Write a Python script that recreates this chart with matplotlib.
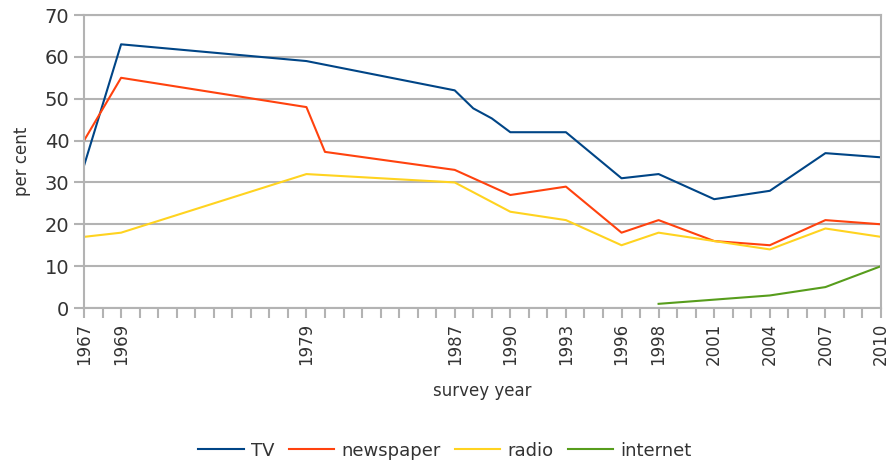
import matplotlib
matplotlib.use("Agg")
import matplotlib.pyplot as plt

# survey data (per cent)
tv_years = [1967, 1969, 1979, 1987, 1988, 1989, 1990, 1993, 1996, 1998, 2001, 2004, 2007, 2010]
tv = [34, 63, 59, 52, 47.7, 45.3, 42, 42, 31, 32, 26, 28, 37, 36]

news_years = [1967, 1969, 1979, 1980, 1987, 1990, 1993, 1996, 1998, 2001, 2004, 2007, 2010]
newspaper = [40, 55, 48, 37.3, 33, 27, 29, 18, 21, 16, 15, 21, 20]

radio_years = [1967, 1969, 1979, 1987, 1990, 1993, 1996, 1998, 2001, 2004, 2007, 2010]
radio = [17, 18, 32, 30, 23, 21, 15, 18, 16, 14, 19, 17]

net_years = [1998, 2001, 2004, 2007, 2010]
internet = [1, 2, 3, 5, 10]

label_years = [1967, 1969, 1979, 1987, 1990, 1993, 1996, 1998, 2001, 2004, 2007, 2010]

grid_col = "#b3b3b3"
text_col = "#333333"

fig = plt.figure(figsize=(8.9, 4.62), dpi=100)
ax = fig.add_axes([0.0944, 0.3333, 0.8955, 0.6342])

ax.plot(tv_years, tv, color="#004586", lw=1.5, label="TV")
ax.plot(news_years, newspaper, color="#ff420e", lw=1.5, label="newspaper")
ax.plot(radio_years, radio, color="#ffd320", lw=1.5, label="radio")
ax.plot(net_years, internet, color="#579d1c", lw=1.5, label="internet")

ax.set_xlim(1967, 2010)
ax.set_ylim(0, 70)
ax.set_yticks(range(0, 71, 10))
ax.set_xticks(range(1967, 2011), minor=True)
ax.set_xticks(label_years)
ax.set_xticklabels([str(y) for y in label_years], rotation=90)
ax.yaxis.grid(True, color=grid_col, lw=1.5)
ax.set_axisbelow(True)

for s in ax.spines.values():
    s.set_color(grid_col)
    s.set_linewidth(1.5)

ax.tick_params(axis="y", labelsize=14, colors=grid_col, labelcolor=text_col, length=7, width=1.5)
ax.tick_params(axis="x", which="both", labelsize=12, colors=grid_col, labelcolor=text_col, length=7, width=1.5)

ax.set_xlabel("survey year", fontsize=12, color=text_col, labelpad=12)
ax.set_ylabel("per cent", fontsize=12, color=text_col, labelpad=10)

fig.legend(loc="lower center", bbox_to_anchor=(0.5, -0.03), ncol=4, frameon=False,
           fontsize=13, handlelength=2.5, columnspacing=0.8, handletextpad=0.4,
           labelcolor=text_col)

fig.savefig("out.png", dpi=100)
